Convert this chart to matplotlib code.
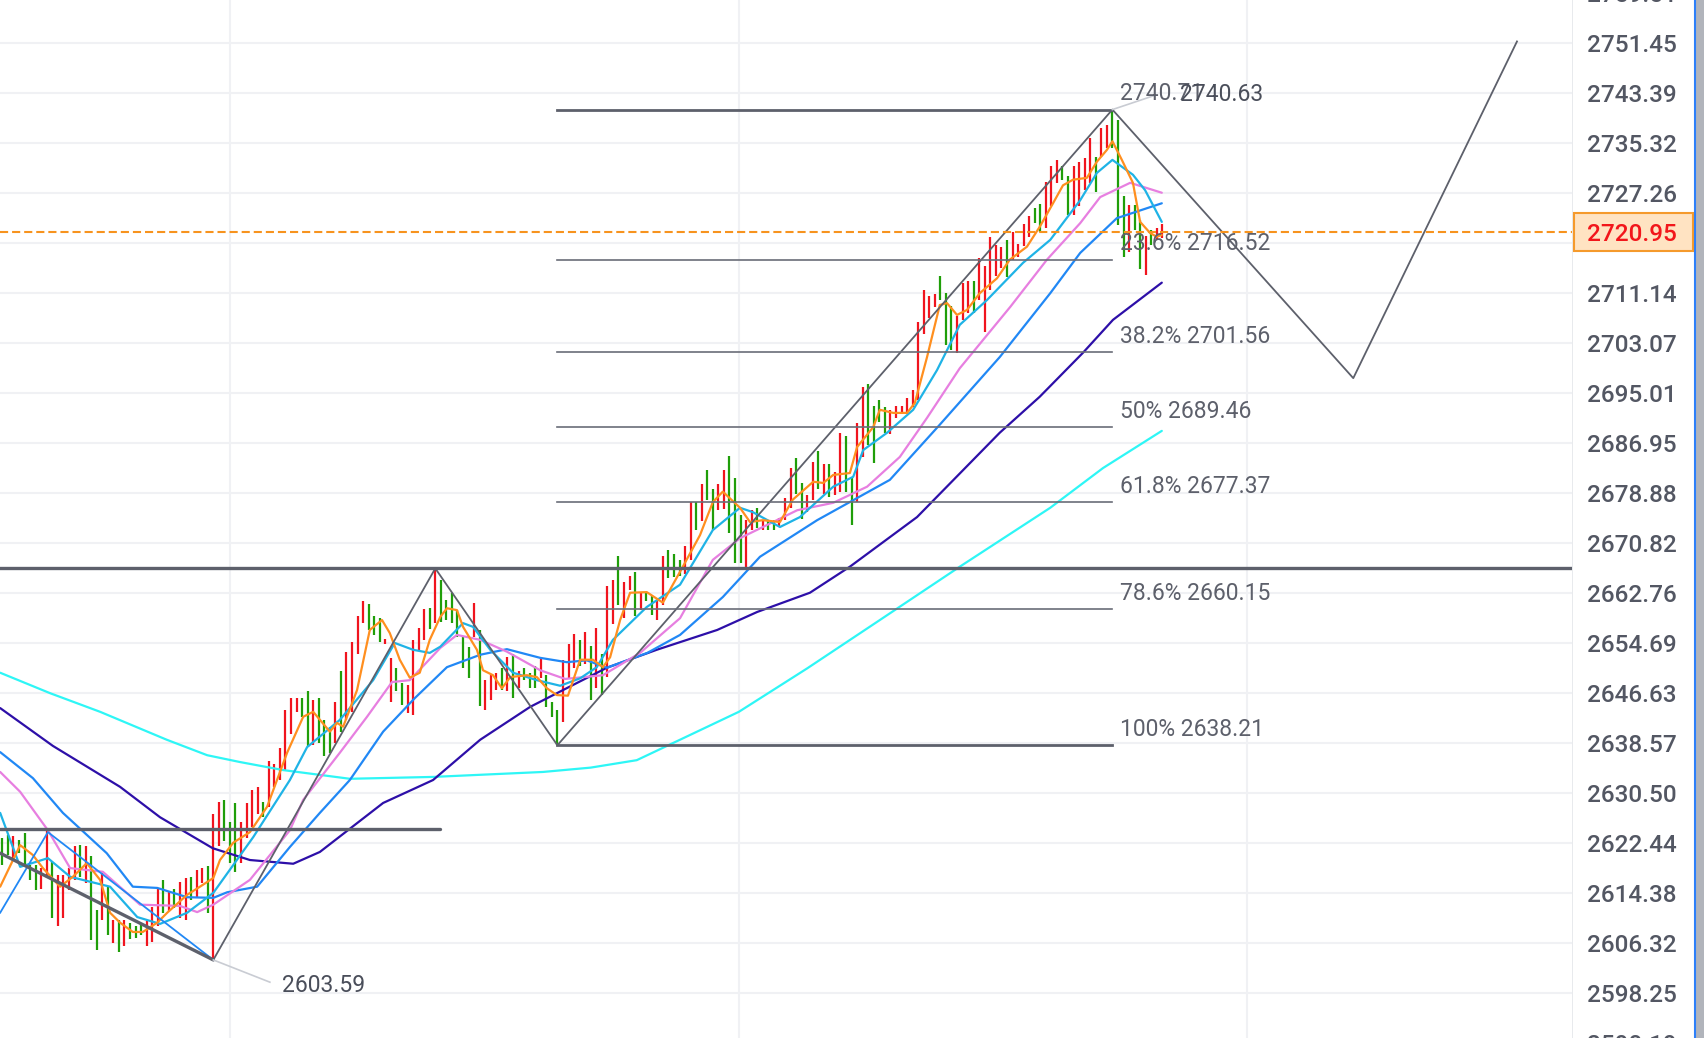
import numpy as np
import matplotlib.pyplot as plt
from matplotlib.patches import Rectangle
from matplotlib.lines import Line2D

plt.rcParams['font.family'] = ['Roboto', 'DejaVu Sans']

# --- bars (high / low per bar, colour r=red g=green) ---
bar_high = [
    2623.2, 2623.7, 2623.6, 2622.9, 2624.0, 2618.9, 2618.9, 2618.4, 2624.3, 2619.4,
    2617.3, 2617.3, 2618.4, 2621.9, 2622.1, 2621.9, 2620.4, 2611.6, 2617.6, 2615.4,
    2610.0, 2610.0, 2610.0, 2609.5, 2609.0, 2609.2, 2609.8, 2612.2, 2615.1, 2616.5,
    2614.6, 2615.1, 2616.2, 2616.8, 2617.0, 2618.1, 2618.4, 2618.7, 2627.2, 2629.1,
    2629.4, 2625.9, 2628.9, 2625.9, 2628.9, 2631.0, 2631.5, 2629.1, 2635.6, 2635.2,
    2637.7, 2643.9, 2645.8, 2645.8, 2645.8, 2646.9, 2645.5, 2645.8, 2642.3, 2641.2,
    2645.2, 2650.1, 2653.3, 2654.9, 2659.1, 2661.4, 2661.0, 2659.1, 2658.7, 2655.3,
    2652.2, 2650.6, 2648.2, 2647.9, 2655.2, 2657.1, 2660.1, 2660.3, 2666.7, 2664.9,
    2661.6, 2662.7, 2660.0, 2655.7, 2654.1, 2661.1, 2656.8, 2648.7, 2649.5, 2649.8,
    2650.6, 2652.5, 2652.9, 2650.1, 2650.6, 2649.8, 2651.0, 2652.5, 2649.5, 2645.2,
    2643.9, 2652.0, 2654.5, 2656.2, 2655.2, 2656.5, 2654.2, 2657.1, 2652.9, 2663.9,
    2664.9, 2668.7, 2664.6, 2665.5, 2666.2, 2662.7, 2662.7, 2662.2, 2661.6, 2668.7,
    2669.7, 2669.1, 2668.1, 2670.3, 2677.5, 2677.5, 2680.3, 2682.6, 2679.6, 2680.3,
    2682.6, 2684.9, 2681.3, 2675.3, 2674.5, 2676.2, 2676.4, 2674.5, 2674.5, 2674.5,
    2674.8, 2678.0, 2682.9, 2684.5, 2680.5, 2678.6, 2683.9, 2685.6, 2683.5, 2683.6,
    2682.2, 2688.5, 2688.1, 2681.4, 2690.1, 2696.0, 2696.4, 2692.9, 2693.9, 2692.8,
    2692.2, 2692.9, 2692.9, 2694.2, 2695.5, 2706.5, 2711.6, 2710.7, 2711.0, 2713.9,
    2711.2, 2709.0, 2707.5, 2712.8, 2713.0, 2713.0, 2716.7, 2715.5, 2720.1, 2718.9,
    2718.6, 2719.7, 2720.9, 2719.0, 2722.3, 2723.6, 2724.8, 2725.5, 2729.1, 2731.6,
    2732.6, 2731.6, 2730.0, 2731.6, 2732.3, 2732.9, 2736.2, 2733.0, 2737.7, 2738.2,
    2740.7, 2739.0, 2726.8, 2725.3, 2725.3, 2722.9, 2720.3, 2721.3, 2721.6, 2722.3,
]
bar_low = [
    2618.9, 2620.5, 2619.7, 2620.8, 2618.6, 2616.5, 2614.9, 2615.1, 2616.8, 2610.4,
    2609.1, 2610.4, 2614.9, 2616.5, 2617.0, 2616.0, 2606.8, 2605.2, 2610.0, 2607.6,
    2606.3, 2604.9, 2605.9, 2606.9, 2607.2, 2607.6, 2605.9, 2606.5, 2609.0, 2611.2,
    2611.4, 2611.9, 2610.3, 2610.1, 2613.3, 2613.8, 2616.0, 2611.1, 2603.6, 2621.9,
    2622.7, 2619.2, 2617.8, 2619.2, 2623.2, 2625.1, 2627.2, 2626.7, 2628.3, 2631.5,
    2632.6, 2634.2, 2640.1, 2643.6, 2642.8, 2638.0, 2638.3, 2638.5, 2636.4, 2636.9,
    2638.5, 2640.4, 2642.3, 2643.6, 2653.0, 2657.9, 2656.8, 2656.0, 2654.9, 2654.6,
    2645.2, 2646.9, 2644.7, 2643.4, 2643.1, 2653.6, 2655.2, 2656.9, 2658.0, 2658.1,
    2658.4, 2657.9, 2655.7, 2650.6, 2649.0, 2655.7, 2644.6, 2643.9, 2645.5, 2647.1,
    2647.1, 2646.9, 2645.9, 2647.4, 2648.7, 2647.4, 2647.4, 2649.0, 2644.4, 2642.8,
    2638.2, 2642.0, 2649.0, 2650.6, 2651.0, 2651.3, 2645.5, 2647.5, 2646.3, 2649.2,
    2657.8, 2660.8, 2658.7, 2663.3, 2659.1, 2660.0, 2661.4, 2659.2, 2658.4, 2660.8,
    2665.1, 2665.4, 2665.5, 2665.9, 2668.1, 2672.9, 2674.3, 2677.8, 2672.9, 2676.2,
    2676.3, 2672.4, 2667.6, 2667.6, 2667.0, 2672.9, 2673.2, 2672.9, 2672.9, 2672.9,
    2673.5, 2674.5, 2676.4, 2678.8, 2674.7, 2675.8, 2677.8, 2679.6, 2678.8, 2678.3,
    2678.5, 2679.1, 2679.1, 2673.7, 2677.5, 2684.7, 2686.7, 2683.7, 2690.4, 2688.5,
    2688.4, 2690.9, 2692.0, 2691.7, 2692.8, 2693.9, 2704.6, 2707.1, 2708.8, 2710.0,
    2702.8, 2702.0, 2701.5, 2706.8, 2707.9, 2707.9, 2710.0, 2704.9, 2711.6, 2713.8,
    2715.1, 2713.7, 2716.5, 2717.0, 2718.7, 2720.2, 2722.4, 2721.0, 2721.6, 2725.1,
    2728.8, 2729.4, 2723.7, 2723.7, 2725.1, 2727.8, 2728.8, 2727.5, 2733.1, 2734.5,
    2734.5, 2722.1, 2717.0, 2717.8, 2721.3, 2715.0, 2714.0, 2718.9, 2719.7, 2720.0,
]
bar_col = ("ggrggggrrg" "rrrrgrggrg" "rgrgggrrrg" "rgrrgrrgrr" "gggrrrrgrr"
           "rrrrggrggg" "rgrrrrgggr" "rggrrrrgrg" "gggggrgrrr" "grgrgggrgg"
           "grrrgrgrgr" "rgrrgrggrr" "gggrrgrggr" "rgggrrgrgg" "rrrggrrgrg"
           "rrggrrgggg" "rrrrrrrrrg" "ggrrrgrrrr" "rgrrrrggrr" "rggrrrrgrr"
           "gggrggrgrr")

# --- moving averages (bar index, price) ---
orange_i = [-0.4, 3.2, 5.5, 7.3, 10.4, 12.7, 15.2, 17.6, 19.4, 21.2, 23.5, 25.3, 27.9, 29.7, 33.3,
            35.6, 38, 39.2, 41.6, 44.6, 47.7, 51.3, 54.2, 56, 59, 60.3, 61.4, 63.9, 66.2, 68.4,
            69.8, 71.6, 73.4, 75.2, 77, 78.9, 80.1, 81.9, 83, 85.5, 86.6, 88.4, 90, 91.5, 94.5,
            96.3, 98.1, 99.9, 101.9, 104.1, 106.4, 108.2, 109.5, 111.3, 113.1, 116.1, 119, 122.6,
            125.7, 128, 129.8, 132.9, 134.7, 137, 140.1, 142.4, 146.1, 147.9, 149.7, 152.7, 154,
            156.9, 158.1, 160.5, 163, 164.4, 166.6, 168.9, 170.2, 172, 173.8, 176.1, 179.2, 181.5,
            184.6, 186.9, 189.3, 191.1, 192.9, 195.4, 197.2, 199, 200, 201.7, 203.7, 205, 206.8,
            208, 208.9]
orange_p = [2615.4, 2622.1, 2620.5, 2618.4, 2615.4, 2617.0, 2619.2, 2616.5, 2611.2, 2609.6, 2608.1,
            2608.1, 2609.6, 2611.2, 2614.1, 2615.4, 2616.8, 2619.7, 2622.5, 2624.2, 2628.3, 2637.0,
            2642.8, 2643.6, 2640.4, 2641.8, 2641.2, 2647.1, 2656.8, 2658.4, 2656.3, 2652.0, 2649.1,
            2649.9, 2655.2, 2658.9, 2660.3, 2660.0, 2657.3, 2653.6, 2650.3, 2649.5, 2647.4, 2649.2,
            2649.5, 2649.2, 2647.4, 2646.3, 2646.2, 2652.0, 2652.0, 2650.8, 2652.4, 2658.4, 2662.8,
            2662.9, 2661.2, 2667.0, 2672.1, 2677.4, 2679.1, 2676.5, 2674.2, 2674.5, 2674.2, 2677.8,
            2680.7, 2680.5, 2681.8, 2682.1, 2686.3, 2689.5, 2692.3, 2691.8, 2691.8, 2693.4, 2700.8,
            2709.2, 2709.5, 2707.6, 2708.4, 2711.1, 2713.5, 2716.5, 2718.6, 2721.8, 2725.6, 2728.5,
            2729.4, 2729.7, 2732.3, 2734.2, 2735.6, 2732.6, 2728.9, 2722.6, 2720.8, 2720.2, 2720.5]

lb_i = [-0.4, 3.2, 8.2, 12.2, 19.4, 24.3, 28.4, 33.3, 38, 45.2, 51.8, 54.9, 60.8, 66.8, 70.7,
        74, 77, 78.9, 83, 84.8, 87.9, 92, 96.3, 100.5, 104.1, 107.1, 110, 116.1, 122.1, 128,
        132.9, 135.2, 140.1, 143.7, 149.7, 153.3, 155.1, 159.4, 164.1, 168.4, 172.5, 177.4,
        183.9, 188.8, 194.2, 197.2, 200, 203.7, 205.9, 208.9]
lb_p = [2627.3, 2618.6, 2620.0, 2617.0, 2615.4, 2610.5, 2609.4, 2611.2, 2614.4, 2623.4, 2632.6,
        2637.9, 2642.3, 2648.7, 2654.7, 2653.6, 2653.1, 2654.1, 2657.9, 2657.3, 2653.6, 2649.9,
        2648.7, 2647.8, 2649.0, 2650.8, 2655.2, 2660.5, 2664.1, 2672.9, 2676.5, 2675.8, 2673.4,
        2675.0, 2679.9, 2681.5, 2685.8, 2688.6, 2692.3, 2698.7, 2706.0, 2710.0, 2716.0, 2719.7,
        2726.1, 2730.5, 2732.6, 2730.2, 2727.7, 2722.6]

pink_i = [-0.4, 3.2, 8.2, 12.2, 18.1, 24.8, 32, 35.1, 38, 44.6, 51.8, 54.2, 60.8, 65.7, 70.2,
          73.4, 78.9, 81.9, 86.1, 90.9, 96.9, 101.4, 108.2, 114.9, 122.1, 128, 132.9, 143.2,
          149.7, 155.8, 161.7, 166.6, 172.5, 181.6, 188.2, 194.2, 197.8, 203.2, 208.9]
pink_p = [2633.9, 2630.7, 2624.5, 2618.4, 2617.8, 2612.5, 2612.3, 2611.3, 2612.5, 2616.5, 2624.5,
          2629.4, 2637.0, 2642.8, 2648.4, 2648.7, 2653.9, 2656.0, 2655.2, 2653.3, 2650.3, 2648.9,
          2649.5, 2653.1, 2658.7, 2668.1, 2671.6, 2676.1, 2677.3, 2679.9, 2684.7, 2691.0, 2699.0,
          2708.9, 2716.5, 2722.4, 2726.6, 2728.9, 2727.3]

blue_i = [-0.4, 5.5, 10.9, 18.8, 23.5, 27.9, 33.3, 38, 40.5, 45.9, 51.8, 57.2, 62.6, 68.6, 74.3,
          80.1, 86.1, 90.9, 96.9, 101.7, 105.3, 108.9, 116.2, 122.1, 129.8, 136.5, 146.8, 159.9,
          168.9, 179.7, 188.8, 194.2, 200.8, 208.9]
blue_p = [2637.1, 2632.9, 2627.3, 2620.8, 2615.4, 2615.2, 2613.7, 2613.6, 2614.5, 2615.4, 2621.8,
          2627.3, 2632.6, 2640.4, 2645.8, 2650.8, 2652.8, 2653.7, 2652.3, 2651.6, 2651.9, 2650.7,
          2653.1, 2656.0, 2662.1, 2668.6, 2674.5, 2681.0, 2689.9, 2700.8, 2711.1, 2717.6, 2723.2,
          2725.6]

ind_i = [-0.4, 9.1, 21.2, 28.4, 37.9, 44.6, 52.4, 57.2, 68.6, 77.6, 86.1, 95.1, 101, 108.9, 117.9,
         128.8, 136, 145.5, 152.7, 164.8, 179.7, 186.9, 194.7, 200.1, 208.9]
ind_p = [2644.2, 2638.1, 2631.5, 2626.6, 2621.6, 2619.7, 2619.1, 2621.0, 2628.9, 2632.6, 2639.1,
         2644.4, 2647.1, 2650.7, 2653.6, 2656.8, 2659.7, 2662.8, 2667.0, 2675.0, 2688.6, 2694.4,
         2701.5, 2706.8, 2712.8]

cyan_i = [-0.4, 8.6, 17.6, 29.6, 36.9, 42.8, 50.6, 62.6, 77.6, 97.4, 106.0, 114.3, 122.1, 132.7,
          145.0, 158.1, 172.5, 188.8, 198.3, 208.9]
cyan_p = [2649.9, 2646.6, 2643.6, 2639.1, 2636.6, 2635.5, 2634.2, 2632.8, 2633.1, 2633.9, 2634.6,
          2635.8, 2639.1, 2643.6, 2650.6, 2658.4, 2667.0, 2676.5, 2682.9, 2688.9]

# --- drawings ---
zig_i = [38, 78, 100, 200, 243.4, 272.9]
zig_p = [2603.59, 2666.73, 2638.21, 2740.71, 2697.4, 2751.7]
bzig_i = [-0.4, 8.2, 38]
bzig_p = [2611.2, 2624.2, 2603.59]
trend_i = [-0.4, 38]
trend_p = [2620.8, 2603.59]

fib_pct = ['', '23.6%', '38.2%', '50%', '61.8%', '78.6%', '100%']
fib_lvl = [2740.71, 2716.52, 2701.56, 2689.46, 2677.37, 2660.15, 2638.21]

last_price = 2720.95
tick_vals = [2590.19, 2598.25, 2606.32, 2614.38, 2622.44, 2630.50, 2638.57, 2646.63, 2654.69,
             2662.76, 2670.82, 2678.88, 2686.95, 2695.01, 2703.07, 2711.14, 2719.20, 2727.26,
             2735.32, 2743.39, 2751.45, 2759.51]
time_grid = [41.0, 132.7, 224.3]

W, H = 1704, 1038
fig = plt.figure(figsize=(W / 100, H / 100), dpi=100)
ax = fig.add_axes([0, 0, 1572 / W, 1])
ax2 = fig.add_axes([1572 / W, 0, 122 / W, 1])
ylim = (2591.0, 2758.38)
ax.set_xlim(-0.432, 282.81)
ax.set_ylim(*ylim)
ax2.set_ylim(*ylim)
ax2.set_xlim(0, 1)
for a in (ax, ax2):
    a.axis('off')

grid_c = '#f0f1f4'
for v in tick_vals:
    ax.axhline(v, color=grid_c, lw=1.5, zorder=0)
for t in time_grid:
    ax.axvline(t, color=grid_c, lw=1.5, zorder=0)

idx = np.arange(len(bar_high))
cols = ['#f0141e' if c == 'r' else '#1f9e09' for c in bar_col]
ax.vlines(idx, bar_low, bar_high, colors=cols, lw=1.6, zorder=2)

ma_style = [(cyan_i, cyan_p, '#2ef6f6'), (ind_i, ind_p, '#2d0fa8'),
            (blue_i, blue_p, '#2188f5'), (pink_i, pink_p, '#e77fe0'),
            (lb_i, lb_p, '#1fb3e6'), (orange_i, orange_p, '#ff8f1f')]
for xi, yp, c in ma_style:
    ax.plot(xi, yp, color=c, lw=1.6, zorder=3, solid_capstyle='round',
            solid_joinstyle='round')

dark = '#5d606b'
ax.plot(zig_i, zig_p, color=dark, lw=1.3, zorder=4)
ax.plot(bzig_i, bzig_p, color='#2188f5', lw=1.3, zorder=4)
ax.plot(trend_i, trend_p, color=dark, lw=2.4, zorder=4, solid_capstyle='round')
ax.axhline(2666.73, color=dark, lw=2.4, zorder=4)
ax.plot([-0.4, 78.9], [2624.7, 2624.7], color=dark, lw=2.4, zorder=4, solid_capstyle='round')

for k, (pct, lvl) in enumerate(zip(fib_pct, fib_lvl)):
    thick = k in (0, len(fib_lvl) - 1)
    ax.plot([100, 200], [lvl, lvl], color=dark if thick else '#6a6d78',
            lw=2.0 if thick else 1.2, zorder=4)
    ax.annotate(f"{pct} {lvl:.2f}".strip(), (201.4, lvl), xytext=(0, 11.3),
                textcoords='offset points', ha='left', va='center',
                fontsize=16.5, color='#5d606b', zorder=6)

ax.plot([200, 207.3], [2740.71, 2742.9], color='#c9ccd3', lw=1.2, zorder=4)
ax.text(212.2, 2743.2, '2740.63', ha='left', va='center', fontsize=16.5,
        color='#4a4e5a', zorder=7)
ax.plot([38, 48.2], [2603.59, 2600.0], color='#c9ccd3', lw=1.2, zorder=4)
ax.text(50.4, 2599.5, '2603.59', ha='left', va='center', fontsize=16.5,
        color='#4a4e5a', zorder=7)

ax.axhline(last_price, color='#f7931e', lw=1.5, ls=(0, (3.9, 1.9)), zorder=5)

# price scale (the 2719.20 label sits under the last-price box)
ytr = ax2.get_yaxis_transform()
ax2.axvline(0, color='#e4e6ea', lw=1.2)
for v in tick_vals:
    if abs(v - last_price) < 3:
        continue
    ax2.text(0.123, v - 0.45, f"{v:.2f}", transform=ytr, ha='left', va='center',
             fontsize=17.5, color='#535763', fontweight='medium', clip_on=False)
ax2.add_patch(Rectangle((2 / 122, last_price - 3.05), 119 / 122, 6.1, transform=ytr,
                        fc='#ffe3c2', ec='#f59a2c', lw=1.5, zorder=5))
ax2.text(0.123, last_price - 0.45, f"{last_price:.2f}", transform=ytr, ha='left',
         va='center', fontsize=17.5, color='#f2161b', fontweight='medium', zorder=6)

fig.add_artist(Rectangle((1696 / W, 0), 8 / W, 1, transform=fig.transFigure,
                         fc='#b1b4bb', ec='none'))
fig.add_artist(Line2D([1695 / W, 1695 / W], [0, 1], transform=fig.transFigure,
                      color='#2d7ff9', lw=1.5))

fig.savefig('out.png', dpi=100)
